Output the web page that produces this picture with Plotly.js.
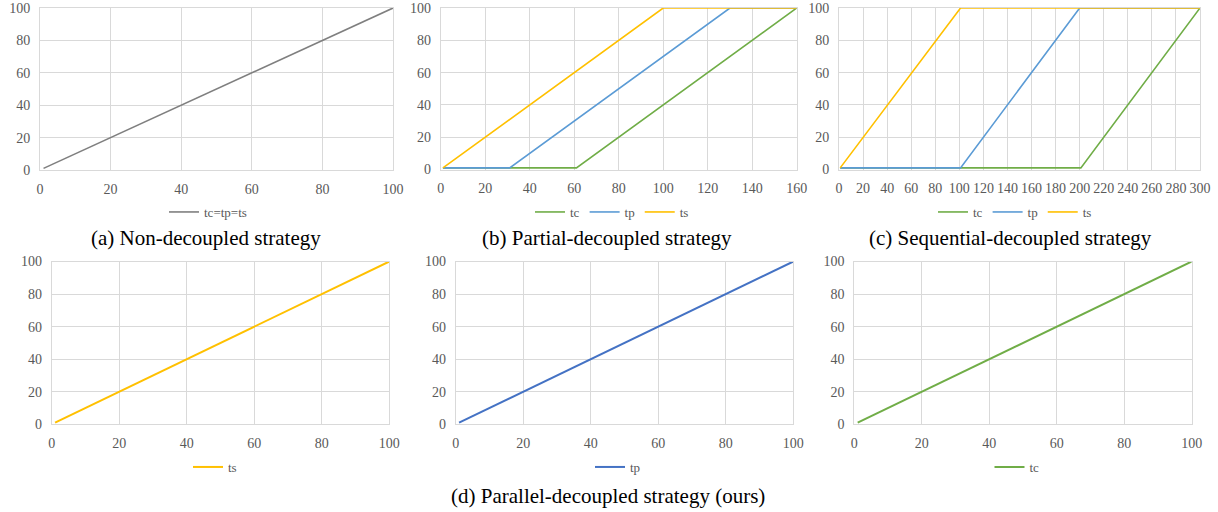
<!DOCTYPE html>
<html>
<head>
<meta charset="utf-8">
<script src="https://cdn.plot.ly/plotly-3.0.1.min.js"></script>
<style>
html,body{margin:0;padding:0;background:#fff;}
#chart{width:1218px;height:512px;}
</style>
</head>
<body>
<div id="chart"></div>
<script>
// ---- Data ----
// (a) Non-decoupled strategy
const nonX = [1, 100];
const nonY = [1, 100];
// (b) Partial-decoupled strategy
const partTcX = [1, 61, 160];
const partTcY = [1, 1, 100];
const partTpX = [1, 31, 130, 160];
const partTpY = [1, 1, 100, 100];
const partTsX = [1, 100, 160];
const partTsY = [1, 100, 100];
// (c) Sequential-decoupled strategy
const seqTcX = [1, 201, 300];
const seqTcY = [1, 1, 100];
const seqTpX = [1, 101, 200, 300];
const seqTpY = [1, 1, 100, 100];
const seqTsX = [1, 101, 300];
const seqTsY = [1, 100, 100];
// (d) Parallel-decoupled strategy (ours)
const parTsX = [1, 100]; const parTsY = [1, 100];
const parTpX = [1, 100]; const parTpY = [1, 100];
const parTcX = [1, 100]; const parTcY = [1, 100];

const captions = ["(a) Non-decoupled strategy", "(b) Partial-decoupled strategy",
                  "(c) Sequential-decoupled strategy", "(d) Parallel-decoupled strategy (ours)"];

// ---- Styles ----
const C_GRAY = "#7f7f7f", C_GREEN = "#70ad47", C_BLUE = "#5b9bd5", C_ORANGE = "#ffc000", C_DBLUE = "#4472c4";
const FONT = "'Liberation Serif', 'Times New Roman', Times, serif";
const W = 1218, H = 512;
const px = v => v / W;
const py = v => 1 - v / H;

function tr(x, y, name, color, ax, leg, w) {
  return {x: x, y: y, name: name, type: "scatter", mode: "lines",
          line: {color: color, width: w || 1.6},
          xaxis: "x" + (ax === 1 ? "" : ax), yaxis: "y" + (ax === 1 ? "" : ax),
          legend: leg, hoverinfo: "skip"};
}

const data = [
  tr(nonX, nonY, "tc=tp=ts", C_GRAY, 1, "legend"),
  tr(partTcX, partTcY, "tc", C_GREEN, 2, "legend2"),
  tr(partTpX, partTpY, "tp", C_BLUE, 2, "legend2"),
  tr(partTsX, partTsY, "ts", C_ORANGE, 2, "legend2"),
  tr(seqTcX, seqTcY, "tc", C_GREEN, 3, "legend3"),
  tr(seqTpX, seqTpY, "tp", C_BLUE, 3, "legend3"),
  tr(seqTsX, seqTsY, "ts", C_ORANGE, 3, "legend3"),
  tr(parTsX, parTsY, "ts", C_ORANGE, 4, "legend4", 2),
  tr(parTpX, parTpY, "tp", C_DBLUE, 5, "legend5", 2),
  tr(parTcX, parTcY, "tc", C_GREEN, 6, "legend6", 2)
];

function xax(dom, max, anchor) {
  return {domain: dom, range: [0, max], dtick: 20, tick0: 0, showgrid: true, gridcolor: "#d9d9d9",
          gridwidth: 1, zeroline: false, showline: true, linecolor: "#d9d9d9", mirror: true,
          ticks: "", anchor: anchor, fixedrange: true, ticklabelstandoff: 6,
          ticklabeloverflow: "allow",
          tickfont: {family: FONT, size: 14, color: "#595959"}};
}
function yax(dom, anchor) {
  return {domain: dom, range: [0, 100], dtick: 20, tick0: 0, showgrid: true, gridcolor: "#d9d9d9",
          gridwidth: 1, zeroline: false, showline: true, linecolor: "#d9d9d9", mirror: true,
          ticks: "", anchor: anchor, fixedrange: true, ticklabelstandoff: 6,
          ticklabeloverflow: "allow",
          tickfont: {family: FONT, size: 14, color: "#595959"}};
}
function leg(cx, cy) {
  return {orientation: "h", x: px(cx), xanchor: "center", y: py(cy), yanchor: "middle",
          font: {family: FONT, size: 13, color: "#595959"}, bgcolor: "rgba(0,0,0,0)",
          itemwidth: 30, itemclick: false, itemdoubleclick: false};
}
function cap(text, cx, cy) {
  return {text: text, x: px(cx), y: py(cy), xref: "paper", yref: "paper", xanchor: "center",
          yanchor: "middle", showarrow: false, font: {family: FONT, size: 21, color: "#000"}};
}

const TOP = 8;
const botY = [py(424.3), py(261.5)];

const layout = {
  width: W, height: H, margin: {l: 0, r: 0, t: 0, b: 0},
  paper_bgcolor: "#fff", plot_bgcolor: "#fff", showlegend: true,
  font: {family: FONT},
  xaxis:  xax([px(40), px(393)], 100, "y"),   yaxis:  yax([py(170), py(TOP)], "x"),
  xaxis2: xax([px(440.7), px(796.7)], 160, "y2"), yaxis2: yax([py(169.5), py(TOP)], "x2"),
  xaxis3: xax([px(839), px(1200)], 300, "y3"),  yaxis3: yax([py(169.5), py(TOP)], "x3"),
  xaxis4: xax([px(51.7), px(389.3)], 100, "y4"), yaxis4: yax(botY, "x4"),
  xaxis5: xax([px(455.7), px(793.3)], 100, "y5"), yaxis5: yax(botY, "x5"),
  xaxis6: xax([px(854.3), px(1191.7)], 100, "y6"), yaxis6: yax(botY, "x6"),
  legend: leg(208, 212), legend2: leg(612, 212), legend3: leg(1015, 212),
  legend4: leg(215, 467), legend5: leg(618, 467), legend6: leg(1017, 467),
  annotations: [
    cap(captions[0], 206, 238),
    cap(captions[1], 607, 238),
    cap(captions[2], 1010, 238),
    cap(captions[3], 608, 496)
  ]
};

Plotly.newPlot("chart", data, layout, {staticPlot: true, displayModeBar: false});
</script>
</body>
</html>
